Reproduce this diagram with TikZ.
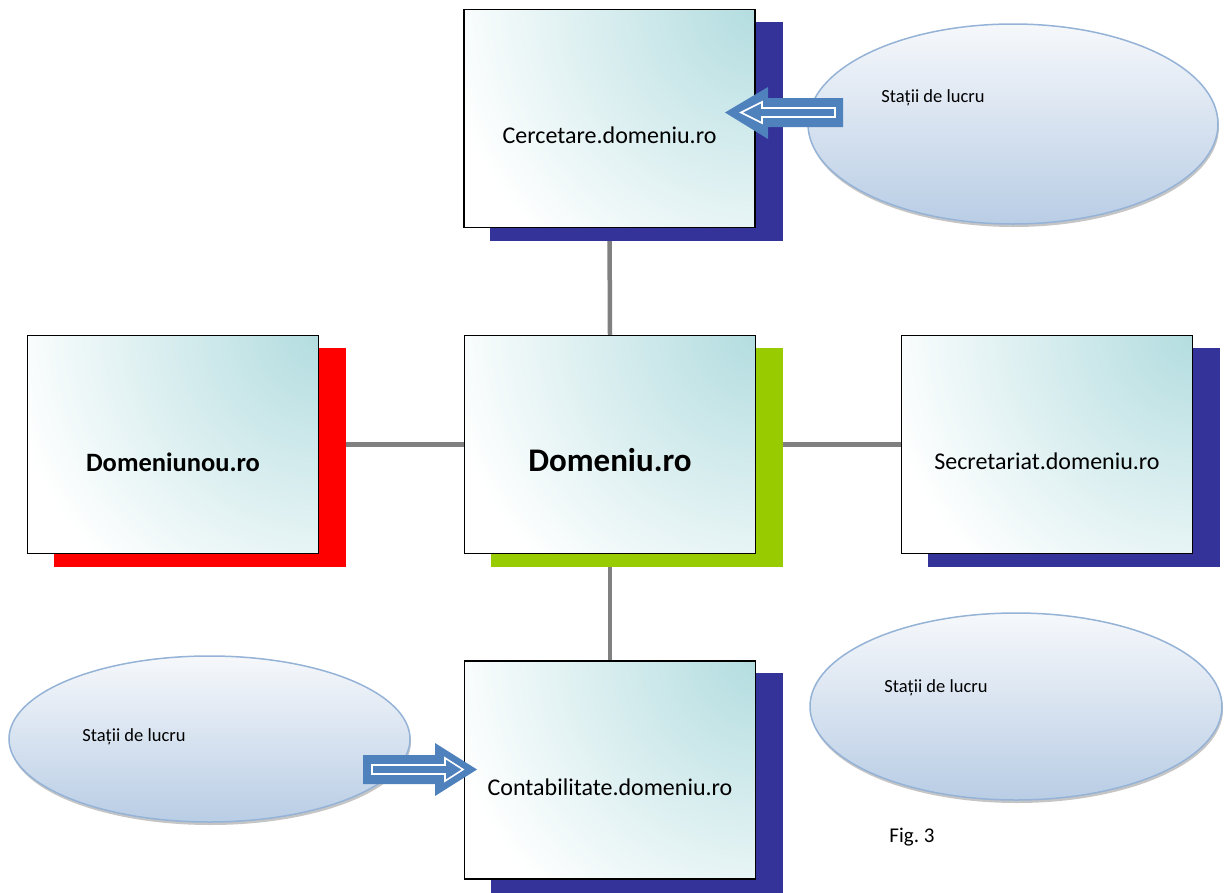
\documentclass[tikz,border=0pt]{standalone}
\usepackage{fontspec}
\setmainfont{Carlito}
\frenchspacing
\usetikzlibrary{shapes.geometric,backgrounds,shadows}
\pgfdeclarelayer{bottom}
\pgfsetlayers{bottom,background,main}
\definecolor{boxteal}{HTML}{B2DCDF}
\definecolor{shblue}{HTML}{333399}
\definecolor{shgreen}{HTML}{99CC00}
\definecolor{shred}{HTML}{FF0000}
\definecolor{ellborder}{HTML}{95B3D7}
\definecolor{elltop}{HTML}{F6F8FB}
\definecolor{ellbot}{HTML}{B9CDE5}
\definecolor{arrblue}{HTML}{4F81BD}
\definecolor{conngray}{HTML}{808080}
\tikzset{
  box/.style={draw=black, fill=white, line width=1.5pt, minimum width=291pt, minimum height=218pt, inner sep=0pt,
    path picture={\shade[inner color=boxteal, outer color=white]
      ([xshift=5pt,yshift=5pt]path picture bounding box.north east) circle (320pt);}},
  boxtext/.style={font=\fontsize{24}{28}\selectfont},
  ell/.style={ellipse, draw=ellborder, line width=1.5pt, top color=elltop, bottom color=ellbot,
    inner sep=0pt, drop shadow={shadow xshift=1pt, shadow yshift=-3pt, fill=black!45, opacity=0.5}},
  elltext/.style={font=\fontsize{18.5}{22}\selectfont},
  conn/.style={draw=conngray, line width=4.5pt},
  blockarrow/.style={fill=arrblue},
  innerarrow/.style={draw=white, line width=1.6pt, fill=arrblue},
}
\begin{document}
\begin{tikzpicture}[x=1pt,y=-1pt]
\begin{pgfonlayer}{bottom}
\fill[white] (0,0) rectangle (1224,892);
\end{pgfonlayer}
\useasboundingbox (0,0) rectangle (1224,892);
% boxes
\node[box, label={[boxtext, yshift=-17pt]center:Cercetare.domeniu.ro}] (cer) at (609.5,118.5) {};
\node[box, label={[font=\fontsize{33}{38}\selectfont\bfseries, yshift=-16pt]center:Domeniu.ro}] (dom) at (610,444.5) {};
\node[box, label={[font=\fontsize{26.5}{30}\selectfont\bfseries, yshift=-18pt]center:Domeniunou.ro}] (dnou) at (173,444.5) {};
\node[box, label={[boxtext, yshift=-17pt]center:Secretariat.domeniu.ro}] (sec) at (1047,444.5) {};
\node[box, label={[boxtext, yshift=-17pt]center:Contabilitate.domeniu.ro}] (cont) at (610,770) {};
% ellipses
\node[ell, minimum width=410pt, minimum height=200pt] (e1) at (1013,124) {};
\node[elltext] (e1t) at (933,98) {Stații de lucru};
\node[ell, minimum width=401pt, minimum height=166pt] (e2) at (209.5,739) {};
\node[elltext] (e2t) at (134,737) {Stații de lucru};
\node[ell, minimum width=412pt, minimum height=187pt] (e3) at (1016,706.5) {};
\node[elltext] (e3t) at (936,688) {Stații de lucru};
\node[font=\fontsize{21}{25}\selectfont] (fig) at (912,837) {Fig. 3};
% shadows and connectors
\begin{pgfonlayer}{background}
  \draw[conn] (cer.south) -- (dom.north);
  \draw[conn] (dom.south) -- (cont.north);
  \draw[conn] (dnou.east) -- (dom.west);
  \draw[conn] (dom.east) -- (sec.west);
  \fill[shblue] ([shift={(27pt,-13pt)}]cer.south west) rectangle ([shift={(27pt,-13pt)}]cer.north east);
  \fill[shgreen] ([shift={(27pt,-13pt)}]dom.south west) rectangle ([shift={(27pt,-13pt)}]dom.north east);
  \fill[shred] ([shift={(27pt,-13pt)}]dnou.south west) rectangle ([shift={(27pt,-13pt)}]dnou.north east);
  \fill[shblue] ([shift={(27pt,-13pt)}]sec.south west) rectangle ([shift={(27pt,-13pt)}]sec.north east);
  \fill[shblue] ([shift={(27pt,-13pt)}]cont.south west) rectangle ([shift={(27pt,-13pt)}]cont.north east);
\end{pgfonlayer}
% block arrows
\fill[blockarrow] (843,98) -- (768,98) -- (768,87) -- (725,112.5) -- (768,139) -- (768,127) -- (843,127) -- cycle;
\draw[innerarrow] (835,108) -- (762,108) -- (762,102) -- (741,112.5) -- (762,123) -- (762,117) -- (835,117) -- cycle;
\fill[blockarrow] (363,755) -- (435,755) -- (435,743) -- (477,769.5) -- (435,796) -- (435,784) -- (363,784) -- cycle;
\draw[innerarrow] (372,765) -- (445,765) -- (445,758) -- (463,769.5) -- (445,781) -- (445,774) -- (372,774) -- cycle;
\end{tikzpicture}
\end{document}
